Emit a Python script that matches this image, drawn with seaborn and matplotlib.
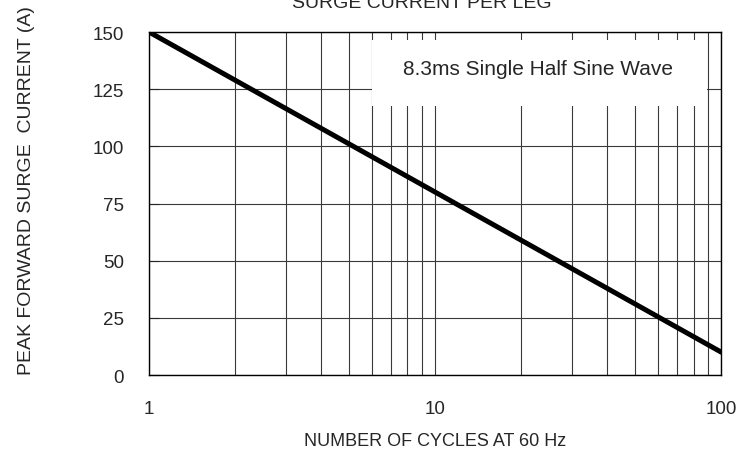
import matplotlib
matplotlib.use("Agg")
import matplotlib.pyplot as plt
from matplotlib.patches import Rectangle
from matplotlib.ticker import FixedLocator, NullFormatter
import seaborn as sns
import pandas as pd

cycles = [1, 10, 100]
current = [150, 80, 10]
x_ticks = [1, 10, 100]
x_tick_labels = ["1", "10", "100"]
y_ticks = [0, 25, 50, 75, 100, 125, 150]

sns.set_style("white")
plt.rcParams['font.family'] = ['Liberation Sans', 'DejaVu Sans']

fig = plt.figure(figsize=(7.47, 4.56), dpi=100)
ax = fig.add_axes([0.1995, 0.1754, 0.7660, 0.7522])

df = pd.DataFrame({"cycles": cycles, "current": current})
ax.set_xscale("log")
sns.lineplot(data=df, x="cycles", y="current", ax=ax, color="black", linewidth=3.6, zorder=4)

ax.set_xlim(1, 100)
ax.set_ylim(0, 150)
ax.xaxis.set_major_locator(FixedLocator(x_ticks))
ax.set_xticklabels(x_tick_labels)
minor = [m * d for d in (1, 10) for m in range(2, 10)]
ax.xaxis.set_minor_locator(FixedLocator(minor))
ax.xaxis.set_minor_formatter(NullFormatter())
ax.set_yticks(y_ticks)

ax.grid(True, which="both", axis="x", color="#3a3a3a", linewidth=0.8)
ax.grid(True, which="major", axis="y", color="#3a3a3a", linewidth=0.8)
ax.set_axisbelow(True)

for s in ax.spines.values():
    s.set_visible(True)
    s.set_color("black")
    s.set_linewidth(1.0)

ax.tick_params(axis="y", direction="in", length=7, width=0.8, pad=18, labelsize=13.5, left=True)
ax.tick_params(axis="x", which="both", length=0, pad=18, labelsize=13.5)

ax.set_xlabel("NUMBER OF CYCLES AT 60 Hz", fontsize=13, labelpad=11)
ax.set_ylabel("PEAK FORWARD SURGE  CURRENT (A)", fontsize=14)
ax.yaxis.set_label_coords(-0.199, 0.54)

rect = Rectangle((0.39, 0.784), 0.586, 0.193, transform=ax.transAxes,
                 facecolor="white", edgecolor="none", zorder=3)
ax.add_patch(rect)
ax.text(0.68, 0.895, "8.3ms Single Half Sine Wave", transform=ax.transAxes,
        ha="center", va="center", fontsize=15, zorder=5)

fig.text(0.565, 1 - 4 / 456, "SURGE CURRENT PER LEG", ha="center", va="center", fontsize=14)

fig.savefig("out.png", dpi=100)
